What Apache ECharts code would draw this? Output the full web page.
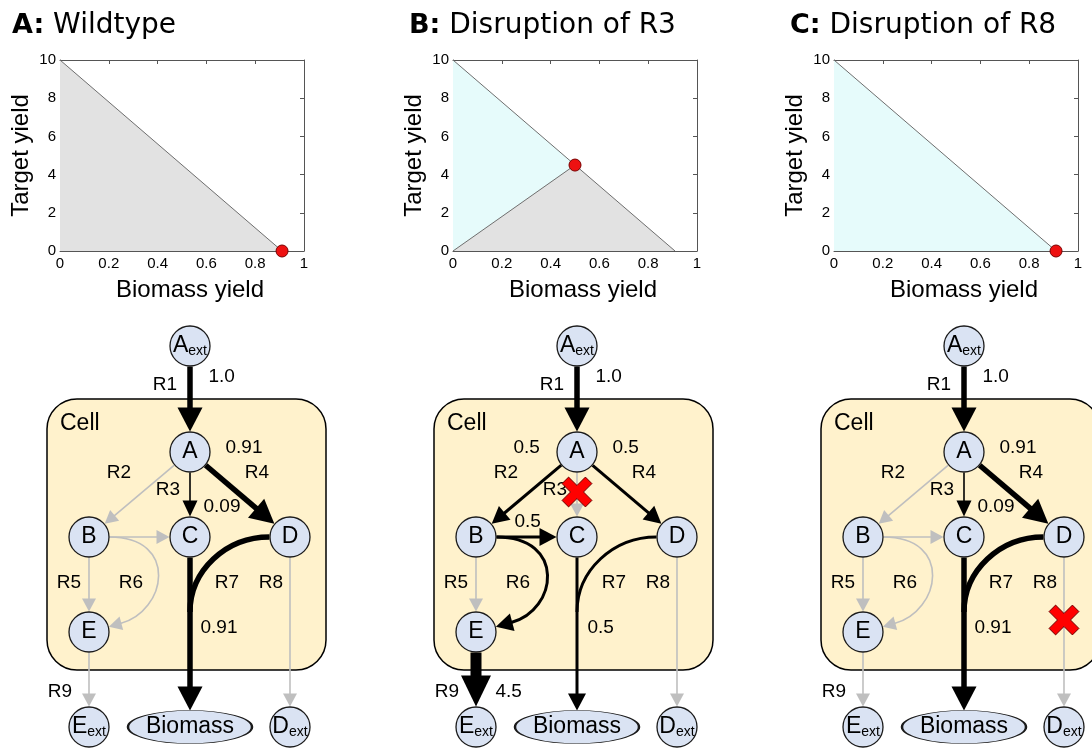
<!DOCTYPE html>
<html><head><meta charset="utf-8">
<script src="https://cdn.jsdelivr.net/npm/echarts@6/dist/echarts.min.js"></script>
<style>html,body{margin:0;padding:0;background:#fff}#chart{width:1092px;height:751px}</style>
</head><body><div id="chart"></div>
<script>
// ---------------- DATA: production envelopes ----------------
const panelLetters = ['A:', 'B:', 'C:'];
const panelTitles = ['Wildtype', 'Disruption of R3', 'Disruption of R8'];
const xAxisTitle = 'Biomass yield';
const yAxisTitle = 'Target yield';
const xTickValues = [0, 0.2, 0.4, 0.6, 0.8, 1];
const yTickValues = [0, 2, 4, 6, 8, 10];
const grayRegions = [[[0, 0], [0, 10], [0.91, 0]], [[0, 0], [0.5, 4.5], [0.91, 0]], []];
const cyanRegions = [[], [[0, 0], [0, 10], [0.5, 4.5]], [[0, 0], [0, 10], [0.91, 0]]];
const upperBoundary = [[0, 10], [0.91, 0]];
const lowerBoundaryR3 = [[0, 0], [0.5, 4.5]];
const optimumPoints = [[0.91, 0], [0.5, 4.5], [0.91, 0]];

// ---------------- DATA: network ----------------
const nodeIds = ['Aext', 'A', 'B', 'C', 'D', 'E', 'Eext', 'Biomass', 'Dext'];
const nodeMain = ['A', 'A', 'B', 'C', 'D', 'E', 'E', 'Biomass', 'D'];
const nodeSub = ['ext', '', '', '', '', '', 'ext', '', 'ext'];
const reactionNames = ['R1', 'R2', 'R3', 'R4', 'R5', 'R6', 'R7', 'R8', 'R9'];
const edgeReaction = [0, 1, 2, 3, 4, 5, 5, 6, 6, 7, 8];
const edgeFrom = ['Aext', 'A', 'A', 'A', 'B', 'B', 'B', 'C', 'D', 'D', 'E'];
const edgeTo = ['A', 'B', 'C', 'D', 'E', 'C', 'E', 'Biomass', 'C', 'Dext', 'Eext'];
const edgeShape = ['straight', 'straight', 'straight', 'straight', 'straight', 'straight', 'loop', 'straight', 'merge', 'straight', 'straight'];
const fluxWildtype = [1.0, 0, 0.09, 0.91, 0, 0, 0.91, 0, 0];
const fluxNoR3 = [1.0, 0.5, 0, 0.5, 0, 0.5, 0.5, 0, 4.5];
const fluxNoR8 = [1.0, 0, 0.09, 0.91, 0, 0, 0.91, 0, 0];
const knockedOut = [-1, 2, 7];

// ---------------- LAYOUT (positions / styles) ----------------
const FONT = "'Liberation Sans', Arial, Helvetica, sans-serif";
const TITLE_FONT = "'DejaVu Sans', 'Liberation Sans', sans-serif";
const TITLE_LEFT = [12, 409, 790];
const PLOT_LEFT = [60, 453, 834];
const PLOT_TOP = 60, PLOT_W = 244, PLOT_H = 191;
const panelShift = [0, 387, 774];
const nodeX = [190, 190, 89, 190, 290, 89, 89, 190, 290];
const nodeY = [346, 452, 537, 537, 537, 632, 727, 727, 727];
const reactionLabelPos = [[165, 385], [119, 473], [168, 490], [257, 473], [69, 583], [131, 583], [227, 583], [271, 583], [60, 692]];
const fluxLabelPos = [[208, 377], [126, 448], [203, 507], [225, 448], null, [127, 522], [200, 628], null, [108, 692]];
const knockoutPos = [null, null, [190, 492], null, null, null, null, [290, 620], null];
const cellBox = [47, 399, 326, 670];
const cellLabelPos = [60, 424];
const NODE_R = 20.5, BIO_RX = 62, BIO_RY = 16.5;
const LOOP_ANG = 15 * Math.PI / 180, LOOP_K1 = 70, LOOP_K2 = 48, MERGE_DROP = 75;

const panelFluxes = [fluxWildtype, fluxNoR3, fluxNoR8];
function fmtFlux(v) { return Number.isInteger(v) ? v.toFixed(1) : String(v); }
function edgeStyle(f) {
  if (!f) return { color: '#bfbfbf', w: 1.6, hl: 13, hw: 14 };
  if (f < 0.2) return { color: '#000', w: 1.6, hl: 16, hw: 15 };
  if (f < 0.75) return { color: '#000', w: 3, hl: 17, hw: 18 };
  if (f < 2) return { color: '#000', w: 5.5, hl: 24, hw: 25 };
  return { color: '#000', w: 11, hl: 31, hw: 30 };
}

// ---------------- top panel axes ----------------
const grids = [], xAxes = [], yAxes = [], series = [];
const tickStyle = { inside: true, length: 4, lineStyle: { color: '#555', width: 1 } };
const lineStyleAx = { show: true, onZero: false, lineStyle: { color: '#555', width: 1 } };
const tickLabel = { show: true, color: '#000', fontSize: 15, fontFamily: FONT, showMinLabel: true, showMaxLabel: true };
for (let i = 0; i < 3; i++) {
  grids.push({ left: PLOT_LEFT[i], top: PLOT_TOP, width: PLOT_W, height: PLOT_H, outerBoundsMode: 'none', containLabel: false });
}
for (let i = 0; i < 3; i++) {
  xAxes.push({
    gridIndex: i, type: 'value', position: 'bottom', min: 0, max: 1, interval: 0.2,
    axisLine: lineStyleAx, axisTick: tickStyle, splitLine: { show: false },
    axisLabel: Object.assign({ margin: 5 }, tickLabel),
    name: xAxisTitle, nameLocation: 'middle', nameGap: 27,
    nameTextStyle: { color: '#000', fontSize: 24, fontFamily: FONT, padding: [0, 0, 0, 16], verticalAlign: 'top' }
  });
  yAxes.push({
    gridIndex: i, type: 'value', position: 'left', min: 0, max: 10, interval: 2,
    axisLine: lineStyleAx, axisTick: tickStyle, splitLine: { show: false },
    axisLabel: Object.assign({ margin: 4 }, tickLabel),
    name: yAxisTitle, nameLocation: 'middle', nameGap: 27, nameRotate: 90,
    nameTextStyle: { color: '#000', fontSize: 24, fontFamily: FONT }
  });
}
for (let i = 0; i < 3; i++) {
  xAxes.push({ gridIndex: i, type: 'value', position: 'top', min: 0, max: 1, interval: 0.2,
    axisLine: lineStyleAx, axisTick: tickStyle, axisLabel: { show: false }, splitLine: { show: false } });
  yAxes.push({ gridIndex: i, type: 'value', position: 'right', min: 0, max: 10, interval: 2,
    axisLine: lineStyleAx, axisTick: tickStyle, axisLabel: { show: false }, splitLine: { show: false } });
}
// diagram coordinate system (1 unit = 1 px)
grids.push({ left: 0, top: 0, width: 1092, height: 751, outerBoundsMode: 'none', containLabel: false });
xAxes.push({ gridIndex: 3, type: 'value', min: 0, max: 1092, show: false });
yAxes.push({ gridIndex: 3, type: 'value', min: 0, max: 751, inverse: true, show: false });
const DX = 6, DY = 6;

// ---------------- top panel series ----------------
for (let i = 0; i < 3; i++) {
  const regions = [{ pts: cyanRegions[i], fill: '#e6fbfb' }, { pts: grayRegions[i], fill: '#e2e2e2' }].filter(r => r.pts.length);
  series.push({
    type: 'custom', xAxisIndex: i, yAxisIndex: i, silent: true, z: 1,
    data: regions.map((r, k) => [k]),
    renderItem: (params, api) => {
      const r = regions[params.dataIndex];
      return { type: 'polygon', shape: { points: r.pts.map(p => api.coord(p)) }, style: { fill: r.fill, stroke: 'none' } };
    }
  });
  const bounds = i === 1 ? [upperBoundary, lowerBoundaryR3] : [upperBoundary];
  bounds.forEach(b => series.push({
    type: 'line', xAxisIndex: i, yAxisIndex: i, data: b, symbol: 'none', silent: true, z: 3,
    lineStyle: { color: '#6e6e6e', width: 1 }, animation: false
  }));
  series.push({
    type: 'scatter', xAxisIndex: i, yAxisIndex: i, data: [optimumPoints[i]], symbolSize: 12, silent: true, z: 5, clip: false,
    itemStyle: { color: '#ee1111', borderColor: '#7a0000', borderWidth: 1, opacity: 1 }
  });
}

// ---------------- diagram series ----------------
const C = (api, pt) => api.coord(pt);
// cell boxes
series.push({
  type: 'custom', xAxisIndex: DX, yAxisIndex: DY, silent: true, z: 1, clip: false,
  data: [[0], [1], [2]],
  renderItem: (params, api) => {
    const sh = panelShift[params.dataIndex];
    const p0 = C(api, [cellBox[0] + sh, cellBox[1]]), p1 = C(api, [cellBox[2] + sh, cellBox[3]]);
    const lp = C(api, [cellLabelPos[0] + sh, cellLabelPos[1]]);
    return { type: 'group', children: [
      { type: 'rect', shape: { x: p0[0], y: p0[1], width: p1[0] - p0[0], height: p1[1] - p0[1], r: 30 },
        style: { fill: '#fff2cc', stroke: '#000', lineWidth: 1.5 } },
      { type: 'text', x: lp[0], y: lp[1], style: { text: 'Cell', fill: '#000', font: '23px ' + FONT, align: 'left', verticalAlign: 'middle' } }
    ] };
  }
});
// edges
const edgeItems = [];
for (let p = 0; p < 3; p++) for (let e = 0; e < edgeFrom.length; e++) edgeItems.push([p, e]);
function nodePos(id, sh) { const k = nodeIds.indexOf(id); return [nodeX[k] + sh, nodeY[k]]; }
function rimDist(id, ux, uy) {
  if (id === 'Biomass') return 1 / Math.sqrt(ux * ux / (BIO_RX * BIO_RX) + uy * uy / (BIO_RY * BIO_RY));
  return NODE_R;
}
series.push({
  type: 'custom', xAxisIndex: DX, yAxisIndex: DY, silent: true, z: 2, clip: false,
  data: edgeItems,
  renderItem: (params, api) => {
    const [p, e] = edgeItems[params.dataIndex];
    const sh = panelShift[p];
    const st = edgeStyle(panelFluxes[p][edgeReaction[e]]);
    const a = nodePos(edgeFrom[e], sh), b = nodePos(edgeTo[e], sh);
    const P = pt => C(api, pt);
    const stroke = { stroke: st.color, lineWidth: st.w, fill: null };
    const kids = [];
    const head = (tip, ux, uy) => {
      const bx = tip[0] - ux * st.hl, by = tip[1] - uy * st.hl, nx = -uy, ny = ux;
      return { type: 'polygon', shape: { points: [P(tip), P([bx + nx * st.hw / 2, by + ny * st.hw / 2]), P([bx - nx * st.hw / 2, by - ny * st.hw / 2])] },
        style: { fill: st.color, stroke: null } };
    };
    const shape = edgeShape[e];
    if (shape === 'straight') {
      const dx = b[0] - a[0], dy = b[1] - a[1], L = Math.hypot(dx, dy), ux = dx / L, uy = dy / L;
      const r0 = rimDist(edgeFrom[e], ux, uy), r1 = rimDist(edgeTo[e], ux, uy);
      const s = [a[0] + ux * r0, a[1] + uy * r0], tip = [b[0] - ux * r1, b[1] - uy * r1];
      const end = [tip[0] - ux * (st.hl - 1), tip[1] - uy * (st.hl - 1)];
      const ps = P(s), pe = P(end);
      kids.push({ type: 'line', shape: { x1: ps[0], y1: ps[1], x2: pe[0], y2: pe[1] }, style: stroke });
      kids.push(head(tip, ux, uy));
    } else if (shape === 'loop') {
      const s = [a[0] + NODE_R, a[1]];
      const ux = -Math.cos(LOOP_ANG), uy = Math.sin(LOOP_ANG);
      const tip = [b[0] - ux * NODE_R, b[1] - uy * NODE_R];
      const base = [tip[0] - ux * (st.hl - 1), tip[1] - uy * (st.hl - 1)];
      const c1 = [s[0] + LOOP_K1, s[1]], c2 = [base[0] - ux * LOOP_K2, base[1] - uy * LOOP_K2];
      const ps = P(s), pc1 = P(c1), pc2 = P(c2), pb = P(base);
      kids.push({ type: 'bezierCurve', shape: { x1: ps[0], y1: ps[1], cpx1: pc1[0], cpy1: pc1[1], cpx2: pc2[0], cpy2: pc2[1], x2: pb[0], y2: pb[1] }, style: stroke });
      kids.push(head(tip, ux, uy));
    } else {
      const s = [a[0] - NODE_R, a[1]];
      const m = [b[0], b[1] + MERGE_DROP];
      const rx = s[0] - m[0], ry = m[1] - s[1];
      const c1 = [s[0] - 0.55 * rx, s[1]], c2 = [m[0], m[1] - 0.55 * ry];
      const ps = P(s), pc1 = P(c1), pc2 = P(c2), pm = P(m);
      kids.push({ type: 'bezierCurve', shape: { x1: ps[0], y1: ps[1], cpx1: pc1[0], cpy1: pc1[1], cpx2: pc2[0], cpy2: pc2[1], x2: pm[0], y2: pm[1] }, style: stroke });
    }
    return { type: 'group', children: kids };
  }
});
// nodes
const circleNodes = [], bioNodes = [];
for (let p = 0; p < 3; p++) {
  nodeIds.forEach((id, k) => {
    const item = { value: [nodeX[k] + panelShift[p], nodeY[k]], main: nodeMain[k], sub: nodeSub[k] };
    (id === 'Biomass' ? bioNodes : circleNodes).push(item);
  });
}
const nodeRich = {
  m: { fontSize: 23, fontFamily: FONT, color: '#000', lineHeight: 24, verticalAlign: 'top' },
  s: { fontSize: 14, fontFamily: FONT, color: '#000', lineHeight: 12, verticalAlign: 'bottom' },
  n: { fontSize: 23, fontFamily: FONT, color: '#000' }
};
series.push({
  type: 'scatter', xAxisIndex: DX, yAxisIndex: DY, silent: true, z: 3, clip: false,
  data: circleNodes, symbol: 'circle', symbolSize: 40,
  itemStyle: { color: '#dae3f3', borderColor: '#1a1a1a', borderWidth: 1.3, opacity: 1 },
  label: { show: true, position: 'inside', rich: nodeRich, opacity: 1,
    formatter: prm => prm.data.sub ? '{m|' + prm.data.main + '}{s|' + prm.data.sub + '}' : '{n|' + prm.data.main + '}' }
});
series.push({
  type: 'scatter', xAxisIndex: DX, yAxisIndex: DY, silent: true, z: 3, clip: false,
  data: bioNodes,
  symbol: 'path://M0,50 C0,22.4 44.8,0 100,0 C155.2,0 200,22.4 200,50 C200,77.6 155.2,100 100,100 C44.8,100 0,77.6 0,50 Z',
  symbolSize: [BIO_RX * 2, BIO_RY * 2],
  itemStyle: { color: '#dae3f3', borderColor: '#1a1a1a', borderWidth: 1.3, opacity: 1 },
  label: { show: true, position: 'inside', rich: nodeRich, opacity: 1, formatter: prm => '{n|' + prm.data.main + '}' }
});
// reaction labels
const rxLabels = [], fxLabels = [];
for (let p = 0; p < 3; p++) {
  reactionNames.forEach((nm, k) => {
    rxLabels.push({ name: nm, value: [reactionLabelPos[k][0] + panelShift[p], reactionLabelPos[k][1]] });
    const f = panelFluxes[p][k];
    if (f && fluxLabelPos[k]) fxLabels.push({ name: fmtFlux(f), value: [fluxLabelPos[k][0] + panelShift[p], fluxLabelPos[k][1]] });
  });
}
series.push({
  type: 'scatter', xAxisIndex: DX, yAxisIndex: DY, silent: true, z: 4, clip: false,
  data: rxLabels, symbolSize: 1, itemStyle: { color: 'rgba(0,0,0,0)', opacity: 1 },
  label: { show: true, position: 'inside', formatter: '{b}', color: '#000', opacity: 1, fontSize: 19, fontFamily: FONT }
});
series.push({
  type: 'scatter', xAxisIndex: DX, yAxisIndex: DY, silent: true, z: 4, clip: false,
  data: fxLabels, symbolSize: 1, itemStyle: { color: 'rgba(0,0,0,0)', opacity: 1 },
  label: { show: true, position: 'right', distance: 0, formatter: '{b}', color: '#000', opacity: 1, fontSize: 19, fontFamily: FONT }
});
// knockout crosses
const koItems = [];
knockedOut.forEach((k, p) => { if (k >= 0) koItems.push([p, k]); });
function xMark(cx, cy) {
  const L = 16.5, t = 4.6, c = Math.SQRT1_2;
  const base = [[t, L], [-t, L], [-t, t], [-L, t], [-L, -t], [-t, -t], [-t, -L], [t, -L], [t, -t], [L, -t], [L, t], [t, t]];
  return base.map(([x, y]) => [cx + (x - y) * c, cy + (x + y) * c]);
}
series.push({
  type: 'custom', xAxisIndex: DX, yAxisIndex: DY, silent: true, z: 6, clip: false,
  data: koItems,
  renderItem: (params, api) => {
    const [p, k] = koItems[params.dataIndex];
    const pos = knockoutPos[k];
    const pts = xMark(pos[0] + panelShift[p], pos[1]).map(pt => api.coord(pt));
    return { type: 'polygon', shape: { points: pts }, style: { fill: '#ff0000', stroke: '#6b0000', lineWidth: 1 } };
  }
});

const option = {
  animation: false,
  backgroundColor: '#ffffff',
  textStyle: { fontFamily: FONT },
  title: panelLetters.map((letter, i) => ({
    text: '{b|' + letter + '}{r| ' + panelTitles[i] + '}',
    left: TITLE_LEFT[i], top: 12, padding: 0,
    textStyle: { fontWeight: 'normal', rich: {
      b: { fontFamily: TITLE_FONT, fontWeight: 'bold', fontSize: 27, color: '#000' },
      r: { fontFamily: TITLE_FONT, fontWeight: 'normal', fontSize: 28, color: '#000' } } }
  })),
  grid: grids,
  xAxis: xAxes,
  yAxis: yAxes,
  series: series
};
const chart = echarts.init(document.getElementById('chart'), null, { renderer: 'canvas', width: 1092, height: 751 });
chart.setOption(option);
</script>
</body></html>
